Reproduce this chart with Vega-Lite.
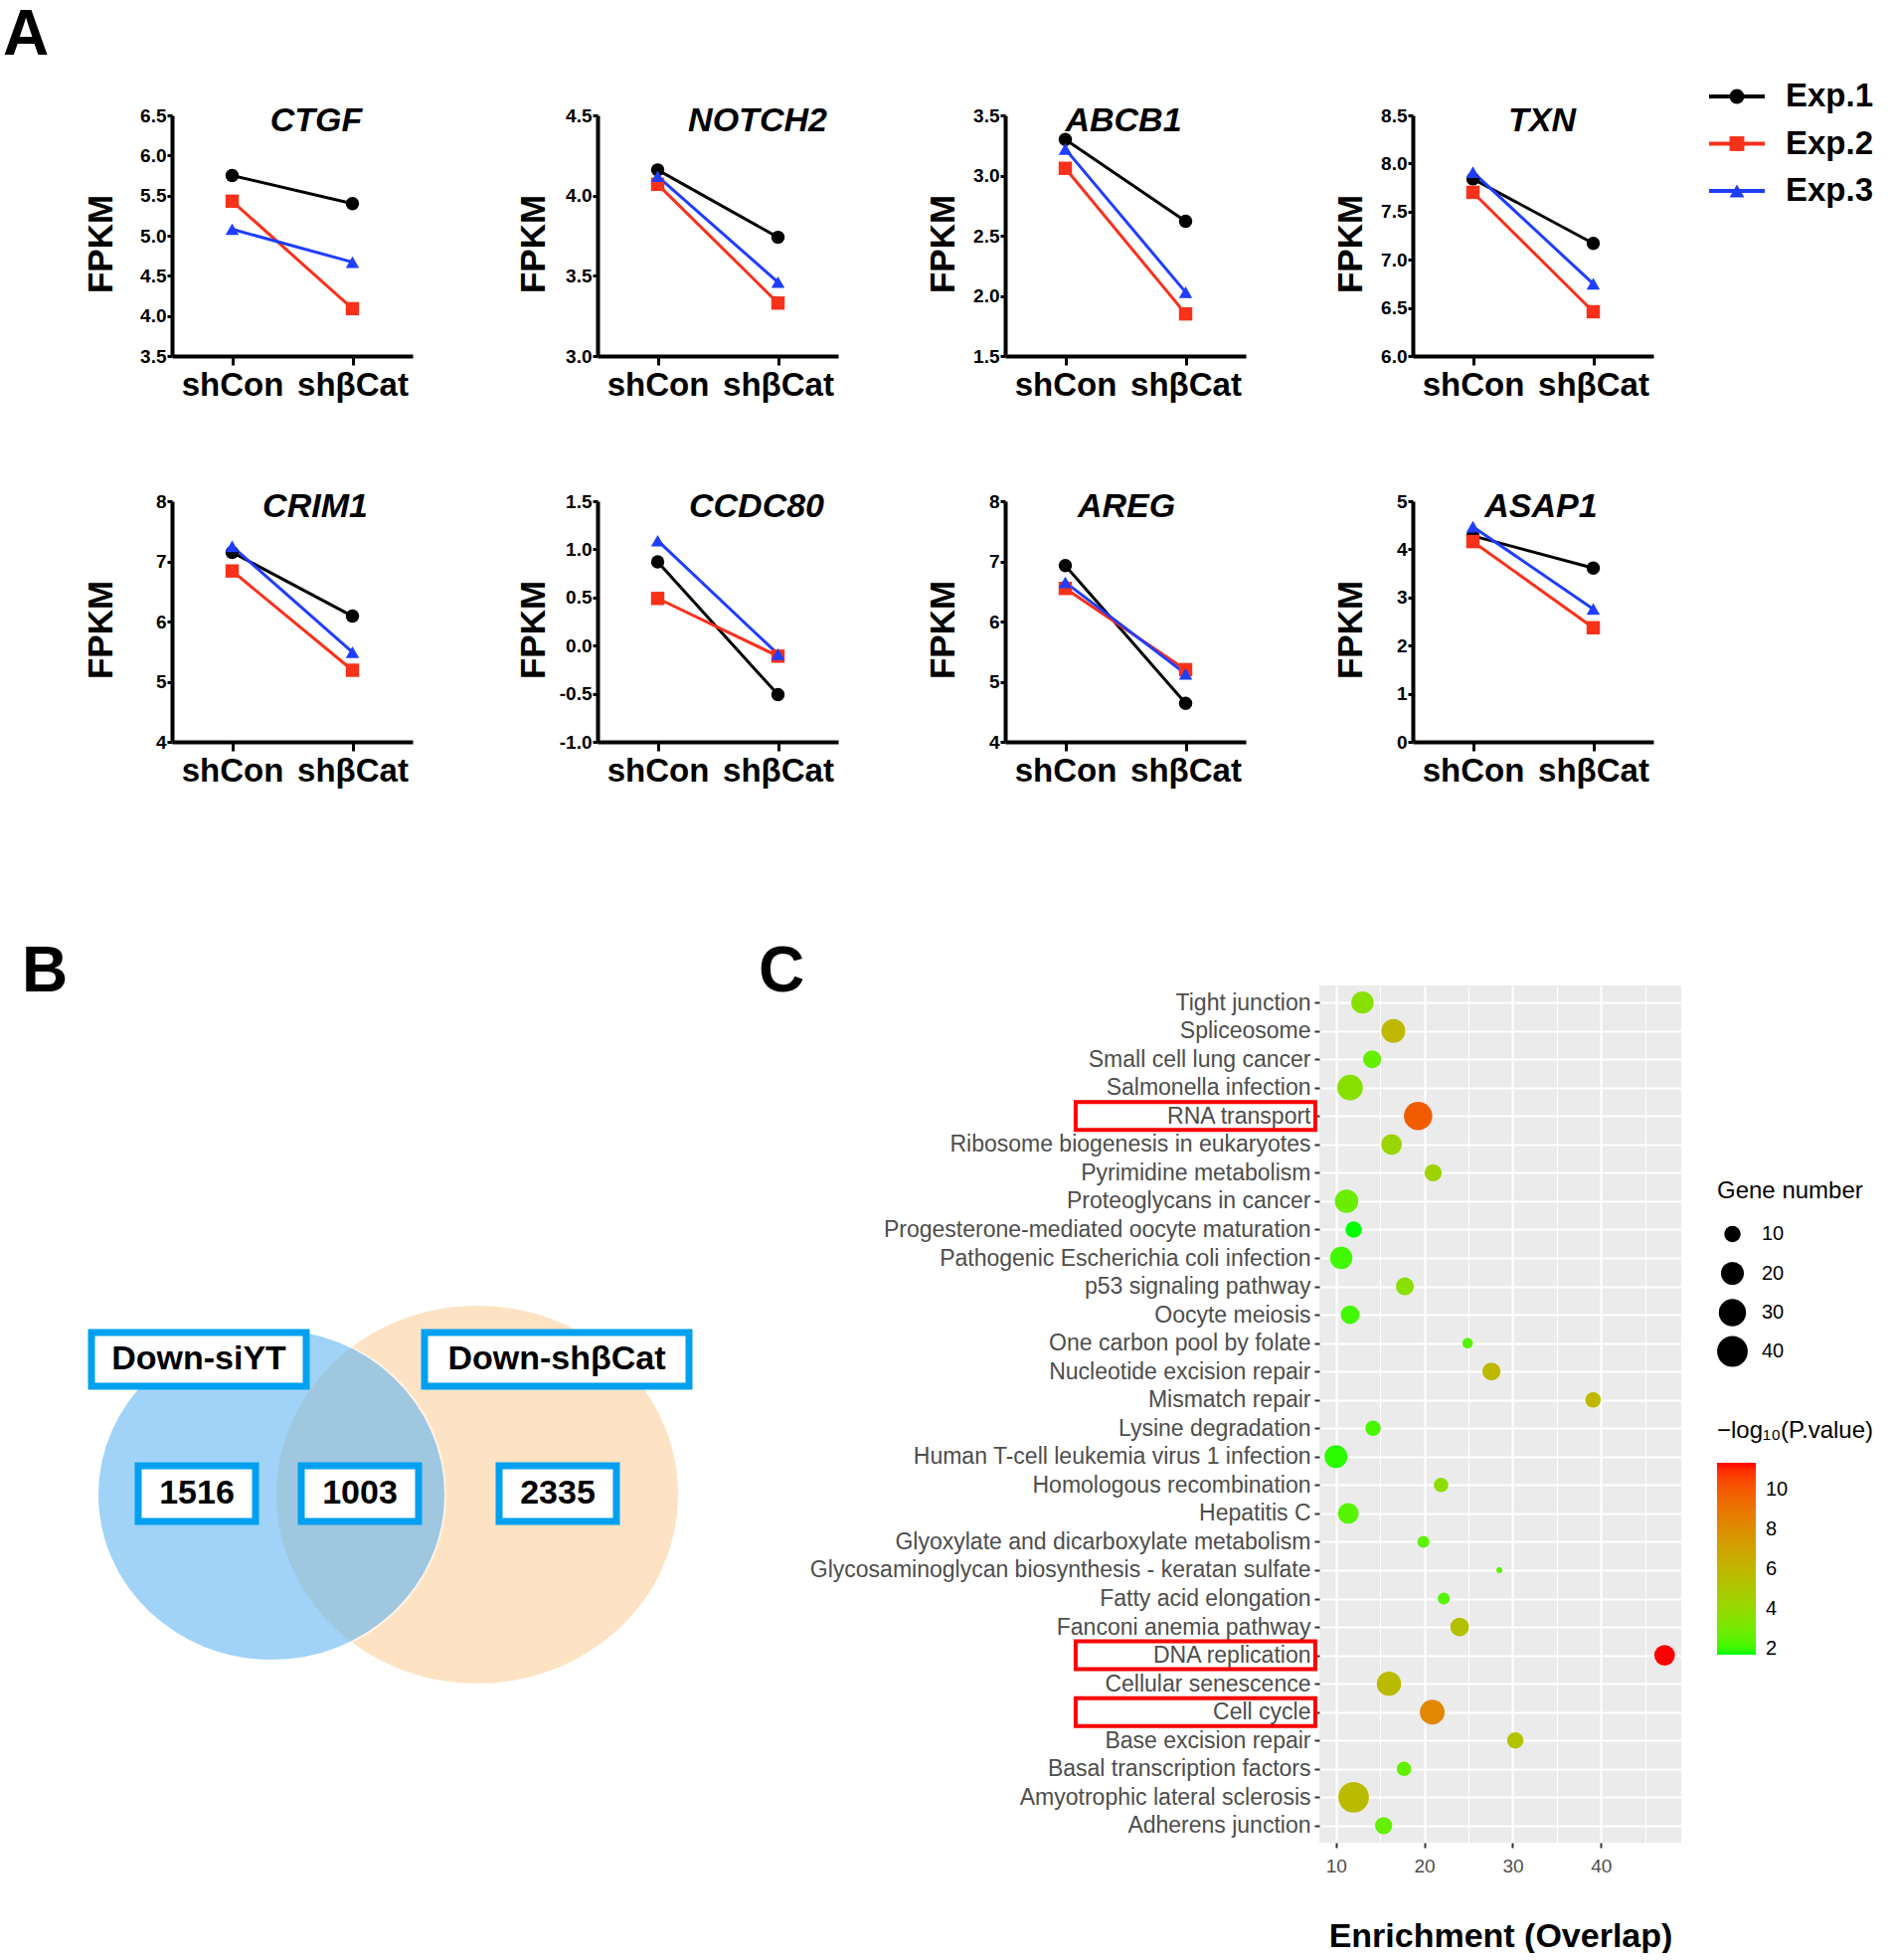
{
  "$schema": "https://vega.github.io/schema/vega-lite/v6.json",
  "background": "white",
  "padding": {"top": 4, "left": 3, "right": 0, "bottom": 0},
  "autosize": {"type": "pad"},
  "config": {
    "font": "Liberation Sans",
    "view": {"stroke": null},
    "legend": {"padding": 0},
    "axisX": {"domainColor": "#000000", "domainWidth": 4, "tickColor": "#000000", "tickWidth": 3, "tickSize": 9, "labelFont": "Liberation Sans", "labelFontSize": 33, "labelFontWeight": "bold", "labelColor": "#000000", "labelPadding": 4, "labelAngle": 0, "grid": false},
    "axisY": {"domainColor": "#000000", "domainWidth": 4, "tickColor": "#000000", "tickWidth": 3, "tickSize": 5, "labelFont": "Liberation Sans", "labelFontSize": 19, "labelFontWeight": "bold", "labelColor": "#000000", "labelPadding": 1, "grid": false, "titleFont": "Liberation Sans", "titleFontSize": 35, "titleFontWeight": "bold", "titleColor": "#000000", "titleAngle": 270, "titleAlign": "center", "titleBaseline": "middle", "titleY": 129}
  },
  "datasets": {
    "expr": [
      {"gene": "CTGF", "exp": "Exp.1", "cond": "shCon", "fpkm": 5.75}, {"gene": "CTGF", "exp": "Exp.1", "cond": "shβCat", "fpkm": 5.40},
      {"gene": "CTGF", "exp": "Exp.2", "cond": "shCon", "fpkm": 5.43}, {"gene": "CTGF", "exp": "Exp.2", "cond": "shβCat", "fpkm": 4.09},
      {"gene": "CTGF", "exp": "Exp.3", "cond": "shCon", "fpkm": 5.08}, {"gene": "CTGF", "exp": "Exp.3", "cond": "shβCat", "fpkm": 4.67},
      {"gene": "NOTCH2", "exp": "Exp.1", "cond": "shCon", "fpkm": 4.16}, {"gene": "NOTCH2", "exp": "Exp.1", "cond": "shβCat", "fpkm": 3.74},
      {"gene": "NOTCH2", "exp": "Exp.2", "cond": "shCon", "fpkm": 4.07}, {"gene": "NOTCH2", "exp": "Exp.2", "cond": "shβCat", "fpkm": 3.33},
      {"gene": "NOTCH2", "exp": "Exp.3", "cond": "shCon", "fpkm": 4.12}, {"gene": "NOTCH2", "exp": "Exp.3", "cond": "shβCat", "fpkm": 3.46},
      {"gene": "ABCB1", "exp": "Exp.1", "cond": "shCon", "fpkm": 3.30}, {"gene": "ABCB1", "exp": "Exp.1", "cond": "shβCat", "fpkm": 2.62},
      {"gene": "ABCB1", "exp": "Exp.2", "cond": "shCon", "fpkm": 3.06}, {"gene": "ABCB1", "exp": "Exp.2", "cond": "shβCat", "fpkm": 1.85},
      {"gene": "ABCB1", "exp": "Exp.3", "cond": "shCon", "fpkm": 3.22}, {"gene": "ABCB1", "exp": "Exp.3", "cond": "shβCat", "fpkm": 2.03},
      {"gene": "TXN", "exp": "Exp.1", "cond": "shCon", "fpkm": 7.84}, {"gene": "TXN", "exp": "Exp.1", "cond": "shβCat", "fpkm": 7.17},
      {"gene": "TXN", "exp": "Exp.2", "cond": "shCon", "fpkm": 7.70}, {"gene": "TXN", "exp": "Exp.2", "cond": "shβCat", "fpkm": 6.46},
      {"gene": "TXN", "exp": "Exp.3", "cond": "shCon", "fpkm": 7.91}, {"gene": "TXN", "exp": "Exp.3", "cond": "shβCat", "fpkm": 6.75},
      {"gene": "CRIM1", "exp": "Exp.1", "cond": "shCon", "fpkm": 7.15}, {"gene": "CRIM1", "exp": "Exp.1", "cond": "shβCat", "fpkm": 6.09},
      {"gene": "CRIM1", "exp": "Exp.2", "cond": "shCon", "fpkm": 6.84}, {"gene": "CRIM1", "exp": "Exp.2", "cond": "shβCat", "fpkm": 5.19},
      {"gene": "CRIM1", "exp": "Exp.3", "cond": "shCon", "fpkm": 7.25}, {"gene": "CRIM1", "exp": "Exp.3", "cond": "shβCat", "fpkm": 5.49},
      {"gene": "CCDC80", "exp": "Exp.1", "cond": "shCon", "fpkm": 0.87}, {"gene": "CCDC80", "exp": "Exp.1", "cond": "shβCat", "fpkm": -0.51},
      {"gene": "CCDC80", "exp": "Exp.2", "cond": "shCon", "fpkm": 0.49}, {"gene": "CCDC80", "exp": "Exp.2", "cond": "shβCat", "fpkm": -0.11},
      {"gene": "CCDC80", "exp": "Exp.3", "cond": "shCon", "fpkm": 1.09}, {"gene": "CCDC80", "exp": "Exp.3", "cond": "shβCat", "fpkm": -0.09},
      {"gene": "AREG", "exp": "Exp.1", "cond": "shCon", "fpkm": 6.93}, {"gene": "AREG", "exp": "Exp.1", "cond": "shβCat", "fpkm": 4.64},
      {"gene": "AREG", "exp": "Exp.2", "cond": "shCon", "fpkm": 6.55}, {"gene": "AREG", "exp": "Exp.2", "cond": "shβCat", "fpkm": 5.20},
      {"gene": "AREG", "exp": "Exp.3", "cond": "shCon", "fpkm": 6.65}, {"gene": "AREG", "exp": "Exp.3", "cond": "shβCat", "fpkm": 5.13},
      {"gene": "ASAP1", "exp": "Exp.1", "cond": "shCon", "fpkm": 4.28}, {"gene": "ASAP1", "exp": "Exp.1", "cond": "shβCat", "fpkm": 3.61},
      {"gene": "ASAP1", "exp": "Exp.2", "cond": "shCon", "fpkm": 4.16}, {"gene": "ASAP1", "exp": "Exp.2", "cond": "shβCat", "fpkm": 2.37},
      {"gene": "ASAP1", "exp": "Exp.3", "cond": "shCon", "fpkm": 4.47}, {"gene": "ASAP1", "exp": "Exp.3", "cond": "shβCat", "fpkm": 2.76}
    ],
    "exps": [{"exp": "Exp.1"}, {"exp": "Exp.2"}, {"exp": "Exp.3"}],
    "vennSets": [
      {"set": "Down-shβCat", "vx": 307, "vy": 512},
      {"set": "Down-siYT", "vx": 100, "vy": 512}
    ],
    "vennBoxes": [
      {"label": "Down-siYT", "vx": 27, "vy": 376},
      {"label": "Down-shβCat", "vx": 387, "vy": 376},
      {"label": "1516", "vx": 25, "vy": 511},
      {"label": "1003", "vx": 189, "vy": 511},
      {"label": "2335", "vx": 388, "vy": 511}
    ],
    "pathways": [
      {"pathway": "Tight junction", "enrichment": 13.0, "genes": 19, "logp": 3.6, "highlight": false},
      {"pathway": "Spliceosome", "enrichment": 16.5, "genes": 22, "logp": 5.9, "highlight": false},
      {"pathway": "Small cell lung cancer", "enrichment": 14.1, "genes": 12, "logp": 2.7, "highlight": false},
      {"pathway": "Salmonella infection", "enrichment": 11.6, "genes": 26, "logp": 3.6, "highlight": false},
      {"pathway": "RNA transport", "enrichment": 19.3, "genes": 33, "logp": 9.9, "highlight": true},
      {"pathway": "Ribosome biogenesis in eukaryotes", "enrichment": 16.3, "genes": 16, "logp": 4.3, "highlight": false},
      {"pathway": "Pyrimidine metabolism", "enrichment": 21.0, "genes": 11, "logp": 4.4, "highlight": false},
      {"pathway": "Proteoglycans in cancer", "enrichment": 11.2, "genes": 21, "logp": 2.8, "highlight": false},
      {"pathway": "Progesterone-mediated oocyte maturation", "enrichment": 12.0, "genes": 10, "logp": 1.72, "highlight": false},
      {"pathway": "Pathogenic Escherichia coli infection", "enrichment": 10.6, "genes": 19, "logp": 2.1, "highlight": false},
      {"pathway": "p53 signaling pathway", "enrichment": 17.8, "genes": 12, "logp": 3.6, "highlight": false},
      {"pathway": "Oocyte meiosis", "enrichment": 11.6, "genes": 13, "logp": 2.1, "highlight": false},
      {"pathway": "One carbon pool by folate", "enrichment": 24.9, "genes": 5, "logp": 2.4, "highlight": false},
      {"pathway": "Nucleotide excision repair", "enrichment": 27.6, "genes": 12, "logp": 5.9, "highlight": false},
      {"pathway": "Mismatch repair", "enrichment": 39.1, "genes": 9, "logp": 5.9, "highlight": false},
      {"pathway": "Lysine degradation", "enrichment": 14.2, "genes": 9, "logp": 2.2, "highlight": false},
      {"pathway": "Human T-cell leukemia virus 1 infection", "enrichment": 10.0, "genes": 20, "logp": 1.9, "highlight": false},
      {"pathway": "Homologous recombination", "enrichment": 21.9, "genes": 8, "logp": 3.8, "highlight": false},
      {"pathway": "Hepatitis C", "enrichment": 11.4, "genes": 16, "logp": 2.4, "highlight": false},
      {"pathway": "Glyoxylate and dicarboxylate metabolism", "enrichment": 19.9, "genes": 6, "logp": 2.5, "highlight": false},
      {"pathway": "Glycosaminoglycan biosynthesis - keratan sulfate", "enrichment": 28.5, "genes": 3, "logp": 2.5, "highlight": false},
      {"pathway": "Fatty acid elongation", "enrichment": 22.2, "genes": 6, "logp": 2.4, "highlight": false},
      {"pathway": "Fanconi anemia pathway", "enrichment": 24.0, "genes": 13, "logp": 5.4, "highlight": false},
      {"pathway": "DNA replication", "enrichment": 47.2, "genes": 16, "logp": 11.37, "highlight": true},
      {"pathway": "Cellular senescence", "enrichment": 16.0, "genes": 23, "logp": 5.7, "highlight": false},
      {"pathway": "Cell cycle", "enrichment": 20.9, "genes": 24, "logp": 8.3, "highlight": true},
      {"pathway": "Base excision repair", "enrichment": 30.3, "genes": 10, "logp": 5.2, "highlight": false},
      {"pathway": "Basal transcription factors", "enrichment": 17.7, "genes": 8, "logp": 2.6, "highlight": false},
      {"pathway": "Amyotrophic lateral sclerosis", "enrichment": 12.0, "genes": 40, "logp": 5.7, "highlight": false},
      {"pathway": "Adherens junction", "enrichment": 15.4, "genes": 11, "logp": 2.7, "highlight": false}
    ]
  },
  "resolve": {"scale": {"color": "independent", "shape": "independent", "size": "independent"}},
  "spacing": 154,
  "vconcat": [
    {
      "spacing": 89,
      "resolve": {"scale": {"color": "independent", "shape": "independent"}},
      "vconcat": [
        {
          "spacing": 104,
          "resolve": {"scale": {"color": "independent", "shape": "independent"}},
          "hconcat": [
            {"width": 242, "height": 242,
             "layer": [
               {"data": {"name": "expr"},
                "transform": [{"filter": {"field": "gene", "equal": "CTGF"}}],
                "encoding": {
                  "x": {"field": "cond", "type": "nominal", "title": null, "scale": {"type": "point", "domain": ["shCon", "shβCat"], "padding": 0.5}},
                  "y": {"field": "fpkm", "type": "quantitative", "title": "FPKM", "scale": {"domain": [3.5, 6.5], "nice": false, "zero": false}, "axis": {"values": [3.5, 4, 4.5, 5, 5.5, 6, 6.5], "format": ".1f", "titleX": -72}},
                  "color": {"field": "exp", "type": "nominal", "scale": {"domain": ["Exp.1", "Exp.2", "Exp.3"], "range": ["#000000", "#F8311A", "#1F3DFF"]}, "legend": null}
                },
                "layer": [
                  {"mark": {"type": "line", "strokeWidth": 3}, "encoding": {}},
                  {"mark": {"type": "point", "filled": true, "opacity": 1, "size": 180, "strokeWidth": 0}, "encoding": {"shape": {"field": "exp", "type": "nominal", "scale": {"domain": ["Exp.1", "Exp.2", "Exp.3"], "range": ["circle", "square", "triangle-up"]}, "legend": null}}}
                ]},
               {"data": {"values": [{"gene": "CTGF"}]},
                "mark": {"type": "text", "align": "center", "baseline": "alphabetic", "dx": 84.5, "dy": 16, "fontSize": 34, "fontStyle": "italic", "fontWeight": "bold", "color": "#000000"},
                "encoding": {"x": {"datum": "shCon", "type": "nominal"}, "y": {"datum": 6.5, "type": "quantitative"}, "text": {"field": "gene"}}},
               {"data": {"values": [{"panel": "A"}]},
                "mark": {"type": "text", "align": "left", "baseline": "alphabetic", "dx": -230.5, "dy": -61, "fontSize": 64, "fontWeight": "bold", "color": "#000000"},
                "encoding": {"x": {"datum": "shCon", "type": "nominal"}, "y": {"datum": 6.5, "type": "quantitative"}, "text": {"field": "panel"}}}
             ]},
            {
              "spacing": 88,
              "resolve": {"scale": {"color": "independent", "shape": "independent"}},
              "hconcat": [
                {"width": 242, "height": 242,
                 "layer": [
                   {"data": {"name": "expr"},
                    "transform": [{"filter": {"field": "gene", "equal": "NOTCH2"}}],
                    "encoding": {
                      "x": {"field": "cond", "type": "nominal", "title": null, "scale": {"type": "point", "domain": ["shCon", "shβCat"], "padding": 0.5}},
                      "y": {"field": "fpkm", "type": "quantitative", "title": "FPKM", "scale": {"domain": [3.0, 4.5], "nice": false, "zero": false}, "axis": {"values": [3, 3.5, 4, 4.5], "format": ".1f", "titleX": -65}},
                      "color": {"field": "exp", "type": "nominal", "scale": {"domain": ["Exp.1", "Exp.2", "Exp.3"], "range": ["#000000", "#F8311A", "#1F3DFF"]}, "legend": null}
                    },
                    "layer": [
                      {"mark": {"type": "line", "strokeWidth": 3}, "encoding": {}},
                      {"mark": {"type": "point", "filled": true, "opacity": 1, "size": 180, "strokeWidth": 0}, "encoding": {"shape": {"field": "exp", "type": "nominal", "scale": {"domain": ["Exp.1", "Exp.2", "Exp.3"], "range": ["circle", "square", "triangle-up"]}, "legend": null}}}
                    ]},
                   {"data": {"values": [{"gene": "NOTCH2"}]},
                    "mark": {"type": "text", "align": "center", "baseline": "alphabetic", "dx": 100.5, "dy": 16, "fontSize": 34, "fontStyle": "italic", "fontWeight": "bold", "color": "#000000"},
                    "encoding": {"x": {"datum": "shCon", "type": "nominal"}, "y": {"datum": 4.5, "type": "quantitative"}, "text": {"field": "gene"}}}
                 ]},
                {"width": 242, "height": 242,
                 "layer": [
                   {"data": {"name": "expr"},
                    "transform": [{"filter": {"field": "gene", "equal": "ABCB1"}}],
                    "encoding": {
                      "x": {"field": "cond", "type": "nominal", "title": null, "scale": {"type": "point", "domain": ["shCon", "shβCat"], "padding": 0.5}},
                      "y": {"field": "fpkm", "type": "quantitative", "title": "FPKM", "scale": {"domain": [1.5, 3.5], "nice": false, "zero": false}, "axis": {"values": [1.5, 2, 2.5, 3, 3.5], "format": ".1f", "titleX": -63}},
                      "color": {"field": "exp", "type": "nominal", "scale": {"domain": ["Exp.1", "Exp.2", "Exp.3"], "range": ["#000000", "#F8311A", "#1F3DFF"]}, "legend": null}
                    },
                    "layer": [
                      {"mark": {"type": "line", "strokeWidth": 3}, "encoding": {}},
                      {"mark": {"type": "point", "filled": true, "opacity": 1, "size": 180, "strokeWidth": 0}, "encoding": {"shape": {"field": "exp", "type": "nominal", "scale": {"domain": ["Exp.1", "Exp.2", "Exp.3"], "range": ["circle", "square", "triangle-up"]}, "legend": null}}}
                    ]},
                   {"data": {"values": [{"gene": "ABCB1"}]},
                    "mark": {"type": "text", "align": "center", "baseline": "alphabetic", "dx": 58.5, "dy": 16, "fontSize": 34, "fontStyle": "italic", "fontWeight": "bold", "color": "#000000"},
                    "encoding": {"x": {"datum": "shCon", "type": "nominal"}, "y": {"datum": 3.5, "type": "quantitative"}, "text": {"field": "gene"}}}
                 ]},
                {"width": 242, "height": 242,
                 "resolve": {"scale": {"x": "independent", "y": "independent"}},
                 "layer": [
                   {"layer": [
                     {"data": {"name": "expr"},
                      "transform": [{"filter": {"field": "gene", "equal": "TXN"}}],
                      "encoding": {
                        "x": {"field": "cond", "type": "nominal", "title": null, "scale": {"type": "point", "domain": ["shCon", "shβCat"], "padding": 0.5}},
                        "y": {"field": "fpkm", "type": "quantitative", "title": "FPKM", "scale": {"domain": [6.0, 8.5], "nice": false, "zero": false}, "axis": {"values": [6, 6.5, 7, 7.5, 8, 8.5], "format": ".1f", "titleX": -63}},
                        "color": {"field": "exp", "type": "nominal", "scale": {"domain": ["Exp.1", "Exp.2", "Exp.3"], "range": ["#000000", "#F8311A", "#1F3DFF"]}, "legend": null}
                      },
                      "layer": [
                        {"mark": {"type": "line", "strokeWidth": 3}, "encoding": {}},
                        {"mark": {"type": "point", "filled": true, "opacity": 1, "size": 180, "strokeWidth": 0}, "encoding": {"shape": {"field": "exp", "type": "nominal", "scale": {"domain": ["Exp.1", "Exp.2", "Exp.3"], "range": ["circle", "square", "triangle-up"]}, "legend": null}}}
                      ]},
                     {"data": {"values": [{"gene": "TXN"}]},
                      "mark": {"type": "text", "align": "center", "baseline": "alphabetic", "dx": 69.5, "dy": 16, "fontSize": 34, "fontStyle": "italic", "fontWeight": "bold", "color": "#000000"},
                      "encoding": {"x": {"datum": "shCon", "type": "nominal"}, "y": {"datum": 8.5, "type": "quantitative"}, "text": {"field": "gene"}}}
                   ]},
                   {"data": {"name": "exps"},
                    "encoding": {
                      "y": {"field": "exp", "type": "nominal", "scale": {"type": "point", "padding": 0, "domain": ["Exp.1", "Exp.2", "Exp.3"], "range": [-19, 76]}, "axis": null}
                    },
                    "layer": [
                      {"mark": {"type": "rule", "strokeWidth": 4, "clip": false},
                       "encoding": {"x": {"datum": 0, "type": "quantitative", "scale": {"domain": [0, 1], "range": [298, 354]}, "axis": null}, "x2": {"datum": 1},
                         "color": {"field": "exp", "type": "nominal", "scale": {"domain": ["Exp.1", "Exp.2", "Exp.3"], "range": ["#000000", "#F8311A", "#1F3DFF"]}, "legend": null}}},
                      {"mark": {"type": "point", "filled": true, "opacity": 1, "size": 220, "strokeWidth": 0, "clip": false},
                       "encoding": {"x": {"datum": 0.5, "type": "quantitative"},
                         "color": {"field": "exp", "type": "nominal", "scale": {"domain": ["Exp.1", "Exp.2", "Exp.3"], "range": ["#000000", "#F8311A", "#1F3DFF"]}, "legend": null},
                         "shape": {"field": "exp", "type": "nominal", "scale": {"domain": ["Exp.1", "Exp.2", "Exp.3"], "range": ["circle", "square", "triangle-up"]}, "legend": null}}},
                      {"mark": {"type": "text", "align": "left", "baseline": "middle", "dx": 21, "fontSize": 33, "fontWeight": "bold", "color": "#000000", "clip": false},
                       "encoding": {"x": {"datum": 1, "type": "quantitative"}, "text": {"field": "exp"}}}
                    ]}
                 ]}
              ]
            }
          ]
        },
        {
          "spacing": 104,
          "resolve": {"scale": {"color": "independent", "shape": "independent"}},
          "hconcat": [
            {"width": 242, "height": 242,
             "layer": [
               {"data": {"name": "expr"},
                "transform": [{"filter": {"field": "gene", "equal": "CRIM1"}}],
                "encoding": {
                  "x": {"field": "cond", "type": "nominal", "title": null, "scale": {"type": "point", "domain": ["shCon", "shβCat"], "padding": 0.5}},
                  "y": {"field": "fpkm", "type": "quantitative", "title": "FPKM", "scale": {"domain": [4, 8], "nice": false, "zero": false}, "axis": {"values": [4, 5, 6, 7, 8], "format": "d", "titleX": -72}},
                  "color": {"field": "exp", "type": "nominal", "scale": {"domain": ["Exp.1", "Exp.2", "Exp.3"], "range": ["#000000", "#F8311A", "#1F3DFF"]}, "legend": null}
                },
                "layer": [
                  {"mark": {"type": "line", "strokeWidth": 3}, "encoding": {}},
                  {"mark": {"type": "point", "filled": true, "opacity": 1, "size": 180, "strokeWidth": 0}, "encoding": {"shape": {"field": "exp", "type": "nominal", "scale": {"domain": ["Exp.1", "Exp.2", "Exp.3"], "range": ["circle", "square", "triangle-up"]}, "legend": null}}}
                ]},
               {"data": {"values": [{"gene": "CRIM1"}]},
                "mark": {"type": "text", "align": "center", "baseline": "alphabetic", "dx": 83.5, "dy": 16, "fontSize": 34, "fontStyle": "italic", "fontWeight": "bold", "color": "#000000"},
                "encoding": {"x": {"datum": "shCon", "type": "nominal"}, "y": {"datum": 8, "type": "quantitative"}, "text": {"field": "gene"}}}
             ]},
            {
              "spacing": 88,
              "resolve": {"scale": {"color": "independent", "shape": "independent"}},
              "hconcat": [
                {"width": 242, "height": 242,
                 "layer": [
                   {"data": {"name": "expr"},
                    "transform": [{"filter": {"field": "gene", "equal": "CCDC80"}}],
                    "encoding": {
                      "x": {"field": "cond", "type": "nominal", "title": null, "scale": {"type": "point", "domain": ["shCon", "shβCat"], "padding": 0.5}},
                      "y": {"field": "fpkm", "type": "quantitative", "title": "FPKM", "scale": {"domain": [-1.0, 1.5], "nice": false, "zero": false}, "axis": {"values": [-1, -0.5, 0, 0.5, 1, 1.5], "format": ".1f", "labelExpr": "replace(datum.label, '−', '-')", "titleX": -65}},
                      "color": {"field": "exp", "type": "nominal", "scale": {"domain": ["Exp.1", "Exp.2", "Exp.3"], "range": ["#000000", "#F8311A", "#1F3DFF"]}, "legend": null}
                    },
                    "layer": [
                      {"mark": {"type": "line", "strokeWidth": 3}, "encoding": {}},
                      {"mark": {"type": "point", "filled": true, "opacity": 1, "size": 180, "strokeWidth": 0}, "encoding": {"shape": {"field": "exp", "type": "nominal", "scale": {"domain": ["Exp.1", "Exp.2", "Exp.3"], "range": ["circle", "square", "triangle-up"]}, "legend": null}}}
                    ]},
                   {"data": {"values": [{"gene": "CCDC80"}]},
                    "mark": {"type": "text", "align": "center", "baseline": "alphabetic", "dx": 99.5, "dy": 16, "fontSize": 34, "fontStyle": "italic", "fontWeight": "bold", "color": "#000000"},
                    "encoding": {"x": {"datum": "shCon", "type": "nominal"}, "y": {"datum": 1.5, "type": "quantitative"}, "text": {"field": "gene"}}}
                 ]},
                {"width": 242, "height": 242,
                 "layer": [
                   {"data": {"name": "expr"},
                    "transform": [{"filter": {"field": "gene", "equal": "AREG"}}],
                    "encoding": {
                      "x": {"field": "cond", "type": "nominal", "title": null, "scale": {"type": "point", "domain": ["shCon", "shβCat"], "padding": 0.5}},
                      "y": {"field": "fpkm", "type": "quantitative", "title": "FPKM", "scale": {"domain": [4, 8], "nice": false, "zero": false}, "axis": {"values": [4, 5, 6, 7, 8], "format": "d", "titleX": -63}},
                      "color": {"field": "exp", "type": "nominal", "scale": {"domain": ["Exp.1", "Exp.2", "Exp.3"], "range": ["#000000", "#F8311A", "#1F3DFF"]}, "legend": null}
                    },
                    "layer": [
                      {"mark": {"type": "line", "strokeWidth": 3}, "encoding": {}},
                      {"mark": {"type": "point", "filled": true, "opacity": 1, "size": 180, "strokeWidth": 0}, "encoding": {"shape": {"field": "exp", "type": "nominal", "scale": {"domain": ["Exp.1", "Exp.2", "Exp.3"], "range": ["circle", "square", "triangle-up"]}, "legend": null}}}
                    ]},
                   {"data": {"values": [{"gene": "AREG"}]},
                    "mark": {"type": "text", "align": "center", "baseline": "alphabetic", "dx": 61.5, "dy": 16, "fontSize": 34, "fontStyle": "italic", "fontWeight": "bold", "color": "#000000"},
                    "encoding": {"x": {"datum": "shCon", "type": "nominal"}, "y": {"datum": 8, "type": "quantitative"}, "text": {"field": "gene"}}}
                 ]},
                {"width": 242, "height": 242,
                 "layer": [
                   {"data": {"name": "expr"},
                    "transform": [{"filter": {"field": "gene", "equal": "ASAP1"}}],
                    "encoding": {
                      "x": {"field": "cond", "type": "nominal", "title": null, "scale": {"type": "point", "domain": ["shCon", "shβCat"], "padding": 0.5}},
                      "y": {"field": "fpkm", "type": "quantitative", "title": "FPKM", "scale": {"domain": [0, 5], "nice": false, "zero": false}, "axis": {"values": [0, 1, 2, 3, 4, 5], "format": "d", "titleX": -63}},
                      "color": {"field": "exp", "type": "nominal", "scale": {"domain": ["Exp.1", "Exp.2", "Exp.3"], "range": ["#000000", "#F8311A", "#1F3DFF"]}, "legend": null}
                    },
                    "layer": [
                      {"mark": {"type": "line", "strokeWidth": 3}, "encoding": {}},
                      {"mark": {"type": "point", "filled": true, "opacity": 1, "size": 180, "strokeWidth": 0}, "encoding": {"shape": {"field": "exp", "type": "nominal", "scale": {"domain": ["Exp.1", "Exp.2", "Exp.3"], "range": ["circle", "square", "triangle-up"]}, "legend": null}}}
                    ]},
                   {"data": {"values": [{"gene": "ASAP1"}]},
                    "mark": {"type": "text", "align": "center", "baseline": "alphabetic", "dx": 68.5, "dy": 16, "fontSize": 34, "fontStyle": "italic", "fontWeight": "bold", "color": "#000000"},
                    "encoding": {"x": {"datum": "shCon", "type": "nominal"}, "y": {"datum": 5, "type": "quantitative"}, "text": {"field": "gene"}}}
                 ]}
              ]
            }
          ]
        }
      ]
    },
    {
      "spacing": 20,
      "resolve": {"scale": {"color": "independent", "shape": "independent", "size": "independent"}},
      "hconcat": [
        {
          "width": 570, "height": 862,
          "layer": [
            {"data": {"name": "vennSets"}, "transform": [{"filter": "datum.set === 'Down-shβCat'"}],
             "mark": {"type": "point", "shape": "M2.03,0A2.03,1.91 0 1,1 -2.03,0A2.03,1.91 0 1,1 2.03,0Z", "size": 40000, "filled": true, "fill": "#FDE3C4", "stroke": "#FFFFFF", "strokeWidth": 2, "opacity": 1, "clip": false},
             "encoding": {"x": {"field": "vx", "type": "quantitative", "scale": {"domain": [0, 570], "nice": false, "zero": false}, "axis": null}, "y": {"field": "vy", "type": "quantitative", "scale": {"domain": [0, 862], "nice": false, "zero": false, "reverse": true}, "axis": null}}},
            {"data": {"name": "vennSets"}, "transform": [{"filter": "datum.set === 'Down-siYT'"}],
             "mark": {"type": "point", "shape": "M1.75,0A1.75,1.67 0 1,1 -1.75,0A1.75,1.67 0 1,1 1.75,0Z", "size": 40000, "filled": true, "fill": "#62B6F3", "stroke": "#FFFFFF", "strokeWidth": 2, "opacity": 0.6, "clip": false},
             "encoding": {"x": {"field": "vx", "type": "quantitative", "axis": null}, "y": {"field": "vy", "type": "quantitative", "axis": null}}},
            {"data": {"name": "vennBoxes"},
             "mark": {"type": "point", "size": 40000, "filled": true, "fill": "#FFFFFF", "stroke": "#00A0F0", "strokeWidth": 7, "opacity": 1, "clip": false},
             "encoding": {"x": {"field": "vx", "type": "quantitative", "axis": null}, "y": {"field": "vy", "type": "quantitative", "axis": null},
               "shape": {"field": "label", "type": "nominal", "legend": null, "scale": {"domain": ["Down-siYT", "Down-shβCat", "1516", "1003", "2335"], "range": ["M-1.08,-0.27H1.08V0.27H-1.08Z", "M-1.33,-0.27H1.33V0.27H-1.33Z", "M-0.59,-0.28H0.59V0.28H-0.59Z", "M-0.59,-0.28H0.59V0.28H-0.59Z", "M-0.59,-0.28H0.59V0.28H-0.59Z"]}}}},
            {"data": {"name": "vennBoxes"},
             "mark": {"type": "text", "fontSize": 34, "fontWeight": "bold", "color": "#000000", "align": "center", "baseline": "middle", "clip": false},
             "encoding": {"x": {"field": "vx", "type": "quantitative", "axis": null}, "y": {"field": "vy", "type": "quantitative", "axis": null}, "text": {"field": "label"}}},
            {"data": {"values": [{"panel": "B"}]},
             "mark": {"type": "text", "fontSize": 64, "fontWeight": "bold", "color": "#000000", "align": "left", "baseline": "alphabetic", "clip": false},
             "encoding": {"x": {"datum": -151, "type": "quantitative"}, "y": {"datum": 6, "type": "quantitative"}, "text": {"field": "panel"}}}
          ]
        },
        {
          "width": 364, "height": 862,
          "view": {"fill": "#EBEBEB", "stroke": null},
          "data": {"name": "pathways"},
          "encoding": {
            "y": {"field": "pathway", "type": "nominal", "title": null, "sort": null,
              "scale": {"type": "point", "padding": 0.6, "domain": ["Tight junction", "Spliceosome", "Small cell lung cancer", "Salmonella infection", "RNA transport", "Ribosome biogenesis in eukaryotes", "Pyrimidine metabolism", "Proteoglycans in cancer", "Progesterone-mediated oocyte maturation", "Pathogenic Escherichia coli infection", "p53 signaling pathway", "Oocyte meiosis", "One carbon pool by folate", "Nucleotide excision repair", "Mismatch repair", "Lysine degradation", "Human T-cell leukemia virus 1 infection", "Homologous recombination", "Hepatitis C", "Glyoxylate and dicarboxylate metabolism", "Glycosaminoglycan biosynthesis - keratan sulfate", "Fatty acid elongation", "Fanconi anemia pathway", "DNA replication", "Cellular senescence", "Cell cycle", "Base excision repair", "Basal transcription factors", "Amyotrophic lateral sclerosis", "Adherens junction"]},
              "axis": {"grid": true, "gridColor": "#FFFFFF", "gridWidth": 2.2, "domain": false, "tickColor": "#333333", "tickWidth": 2, "tickSize": 5, "labelFont": "Liberation Sans", "labelFontSize": 23, "labelFontWeight": "normal", "labelColor": "#4D4D4D", "labelPadding": 4, "labelLimit": 700}}
          },
          "layer": [
            {"mark": {"type": "point", "filled": true, "opacity": 1, "strokeWidth": 0},
             "encoding": {
               "x": {"field": "enrichment", "type": "quantitative", "title": "Enrichment (Overlap)",
                 "scale": {"domain": [8.12, 49.08], "nice": false, "zero": false},
                 "axis": {"values": [10, 15, 20, 25, 30, 35, 40, 45], "grid": true, "gridColor": "#FFFFFF",
                   "gridWidth": {"condition": {"test": "datum.value % 10 === 0", "value": 2.2}, "value": 1.1},
                   "tickColor": {"condition": {"test": "datum.value % 10 === 0", "value": "#333333"}, "value": "transparent"},
                   "labelExpr": "datum.value % 10 === 0 ? datum.label : ''",
                   "domain": false, "tickWidth": 2, "tickSize": 5, "labelFont": "Liberation Sans", "labelFontSize": 19, "labelFontWeight": "normal", "labelColor": "#4D4D4D", "labelPadding": 9,
                   "titleFont": "Liberation Sans", "titleFontSize": 34, "titleFontWeight": "bold", "titleColor": "#000000", "titlePadding": 44}},
               "size": {"field": "genes", "type": "quantitative", "title": "Gene number",
                 "scale": {"type": "pow", "exponent": 0.7, "domain": [3, 45], "range": [35, 1043]},
                 "legend": {"orient": "none", "legendX": 400, "legendY": 195, "values": [10, 20, 30, 40], "symbolType": "circle", "symbolFillColor": "#000000", "symbolStrokeColor": "#000000", "symbolStrokeWidth": 0, "symbolOpacity": 1, "gridAlign": "all", "rowPadding": 6.5, "labelOffset": 14, "titleFont": "Liberation Sans", "titleFontSize": 24, "titleFontWeight": "normal", "titleColor": "#000000", "titlePadding": 21, "labelFont": "Liberation Sans", "labelFontSize": 20, "labelColor": "#000000", "padding": 0}},
               "color": {"field": "logp", "type": "quantitative", "title": "−log₁₀(P.value)",
                 "scale": {"domain": [1.72, 11.37], "range": ["#00FF00", "#FF0000"], "interpolate": "lab"},
                 "legend": {"orient": "none", "legendX": 400, "legendY": 436, "direction": "vertical", "gradientLength": 193, "gradientThickness": 39, "gradientStrokeWidth": 0, "values": [2, 4, 6, 8, 10], "titleFont": "Liberation Sans", "titleFontSize": 24, "titleFontWeight": "normal", "titleColor": "#000000", "titlePadding": 20, "titleLimit": 400, "labelFont": "Liberation Sans", "labelFontSize": 20, "labelColor": "#000000", "labelOffset": 10, "padding": 0}}
             }},
            {"transform": [{"filter": "datum.highlight"}],
             "mark": {"type": "point", "shape": "M-1.205,-0.14H1.205V0.14H-1.205Z", "size": 40000, "filled": false, "stroke": "#FF0000", "strokeWidth": 4, "opacity": 1, "clip": false},
             "encoding": {"x": {"datum": -5.9, "type": "quantitative"}}},
            {"data": {"values": [{"panel": "C"}]},
             "mark": {"type": "text", "fontSize": 64, "fontWeight": "bold", "color": "#000000", "align": "left", "baseline": "alphabetic", "dx": -564, "dy": -11, "clip": false},
             "encoding": {"x": {"datum": 8.12, "type": "quantitative"}, "y": {"datum": "Tight junction", "type": "nominal"}, "text": {"field": "panel"}}}
          ]
        }
      ]
    }
  ]
}
